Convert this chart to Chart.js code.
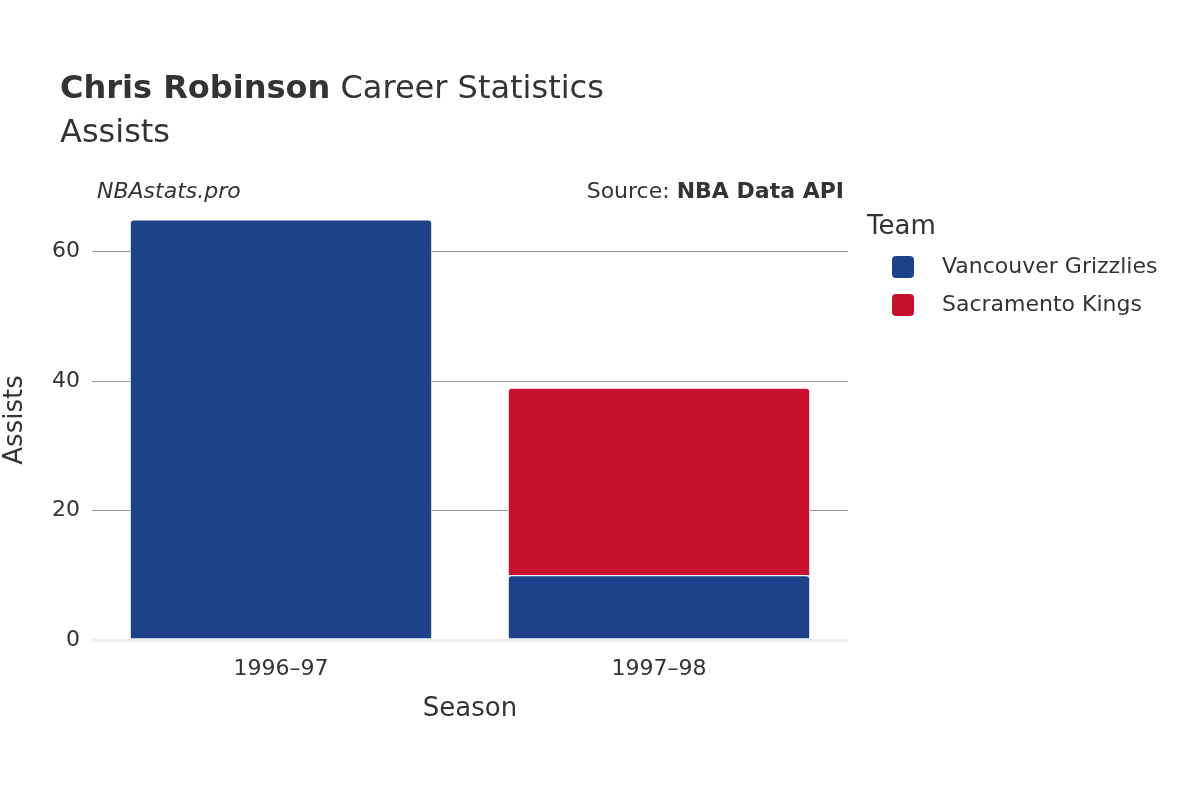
<!DOCTYPE html>
<html>
<head>
<meta charset="utf-8">
<script src="https://cdn.jsdelivr.net/npm/chart.js@4/dist/chart.umd.min.js"></script>
<style>
  body { margin: 0; background: #fff; font-family: "DejaVu Sans", sans-serif; color: #333; }
  #wrap { position: relative; width: 1200px; height: 800px; }
  .txt { position: absolute; white-space: nowrap; }
  .sw { display: inline-block; width: 22px; height: 22px; border-radius: 4px; vertical-align: middle; margin-right: 28px; }
</style>
</head>
<body>
<div id="wrap">
  <canvas id="chart" width="1200" height="800"></canvas>
  <div class="txt" style="left:60px; top:68px; font-size:32px;"><b>Chris Robinson</b> Career Statistics</div>
  <div class="txt" style="left:60px; top:112px; font-size:32px;">Assists</div>
  <div class="txt" style="left:97px; top:178px; font-size:22px; font-style:italic;">NBAstats.pro</div>
  <div class="txt" style="right:356px; top:178px; font-size:22px;">Source: <b>NBA Data API</b></div>
  <div class="txt" style="left:867px; top:210px; font-size:26px;">Team</div>
  <div class="txt" style="left:892px; top:253px; font-size:22px;"><span class="sw" style="background:#1d428a"></span>Vancouver Grizzlies</div>
  <div class="txt" style="left:892px; top:291px; font-size:22px;"><span class="sw" style="background:#c8102e"></span>Sacramento Kings</div>
</div>
<script>
// Daten
var seasons = ["1996–97", "1997–98"];
var vancouverAssists = [65, 10];
var sacramentoAssists = [null, 29];
var yTicks = [0, 20, 40, 60];

Chart.defaults.font.family = "DejaVu Sans";
Chart.defaults.color = "#333";

const ctx = document.getElementById("chart").getContext("2d");
window.chartAssists = new Chart(ctx, {
  type: "bar",
  data: {
    labels: seasons,
    datasets: [
      {
        label: "Vancouver Grizzlies",
        data: vancouverAssists,
        backgroundColor: "#1d428a",
        borderColor: "#fff",
        borderWidth: 1,
        borderSkipped: "bottom",
        borderRadius: { topLeft: 4, topRight: 4 },
      },
      {
        label: "Sacramento Kings",
        data: sacramentoAssists,
        backgroundColor: "#c8102e",
        borderColor: "#fff",
        borderWidth: 1,
        borderSkipped: "bottom",
        borderRadius: { topLeft: 4, topRight: 4 },
      },
    ],
  },
  options: {
    responsive: false,
    animation: false,
    layout: { padding: { left: 0, right: 352, top: 200, bottom: 75 } },
    datasets: { bar: { categoryPercentage: 1, barPercentage: 0.8 } },
    plugins: { legend: { display: false }, tooltip: { enabled: false } },
    scales: {
      x: {
        stacked: true,
        grid: { display: false },
        border: { display: false },
        ticks: { font: { size: 22 }, padding: 8 },
        title: { display: true, text: "Season", font: { size: 26 }, padding: 0 },
        afterFit: function (s) { s.height = 85; },
      },
      y: {
        stacked: true,
        min: 0,
        max: 68,
        afterBuildTicks: function (s) { s.ticks = yTicks.map(function (v) { return { value: v }; }); },
        grid: {
          color: function (c) { return c.tick.value === 0 ? "#eee" : "#999"; },
          lineWidth: function (c) { return c.tick.value === 0 ? 3 : 1; },
          tickLength: 8,
          tickColor: "#fff",
        },
        border: { display: false },
        ticks: { font: { size: 22 }, padding: 4 },
        title: { display: true, text: "Assists", font: { size: 26 }, padding: 0 },
        afterFit: function (s) { s.width = 92; },
      },
    },
  },
});
</script>
</body>
</html>
